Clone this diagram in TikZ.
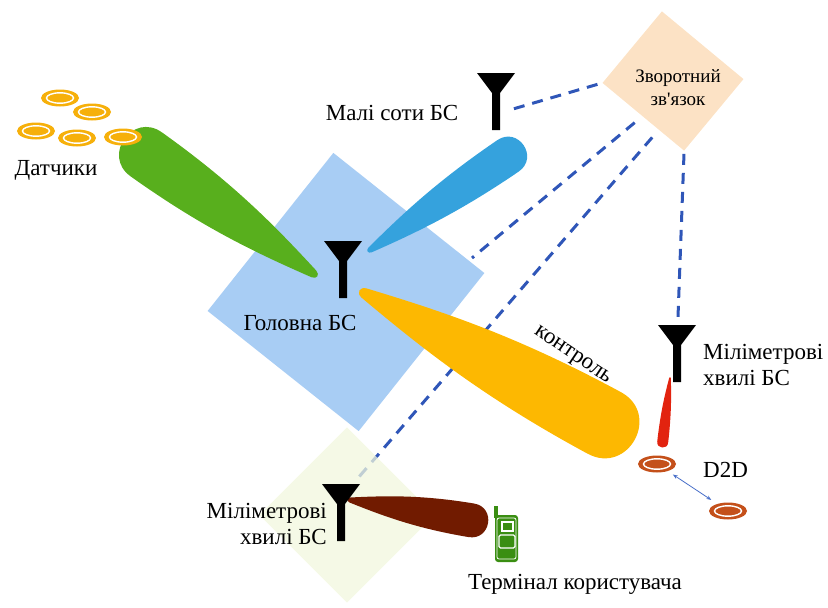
\documentclass[tikz,border=0pt]{standalone}
\usepackage{fontspec}
\setmainfont{Liberation Serif}
\usetikzlibrary{arrows.meta, calc}

\definecolor{mcblue}{HTML}{A8CDF4}
\definecolor{mmgreen}{HTML}{F1F7DD}
\definecolor{fbpeach}{HTML}{FCE2C5}
\definecolor{fbdash}{HTML}{2F56B8}
\definecolor{bmgreen}{HTML}{58AF1D}
\definecolor{bmblue}{HTML}{35A2DD}
\definecolor{bmyellow}{HTML}{FDB801}
\definecolor{bmred}{HTML}{E2230F}
\definecolor{bmbrown}{HTML}{711B00}
\definecolor{snorange}{HTML}{F6B00B}
\definecolor{ddorange}{HTML}{C4501A}
\definecolor{uegreen}{HTML}{3A8E12}
\definecolor{d2dblue}{HTML}{4A70C9}

\tikzset{
  antenna/.pic={
    \fill[black] (-19,0) -- (19,0) -- (4,20) -- (4,57) -- (-4,57) -- (-4,20) -- cycle;
  },
  disc/.pic={
    \fill[#1] (0,0) ellipse (19pt and 8.5pt);
    \draw[white, line width=1.4pt] (0,0) ellipse (13.5pt and 5.2pt);
  },
  handset/.pic={
    \fill[uegreen] (-12,-32) rectangle (-8,-20);
    \fill[uegreen, rounded corners=3pt] (-11,-23) rectangle (12,24);
    \draw[white, line width=0.8pt, rounded corners=2pt] (-9,-20) rectangle (10,21);
    \draw[white, line width=1.2pt] (-4,-16) rectangle (7,-7);
    \draw[white, line width=1.2pt, rounded corners=1.5pt] (-7,-3) rectangle (9,10);
  },
}

% beam lobe: colour, tip, direction, length, half width
\newcommand{\lobe}[5]{%
  \fill[#1, shift={#2}, rotate=#3]
    (0,-0.15*#5) .. controls (0.25*#4,-0.6*#5) and (0.5*#4,-#5) .. (#4-#5,-#5)
    .. controls (#4+0.33*#5,-#5) and (#4+0.33*#5,#5) .. (#4-#5,#5)
    .. controls (0.5*#4,#5) and (0.25*#4,0.6*#5) .. (0,0.15*#5)
    .. controls (-0.2*#5,0.1*#5) and (-0.2*#5,-0.1*#5) .. cycle;
}

\begin{document}
\begin{tikzpicture}[x=1pt, y=-1pt,
  every node/.style={font=\fontsize{23}{27}\selectfont, inner sep=0pt},
  area/.style={rectangle, inner sep=0pt, draw=none},
  fbline/.style={dash pattern=on 11pt off 8pt, line width=3pt, color=fbdash},
]

\useasboundingbox (0,0) rectangle (828,608);

% feedback node
\node[area, fill=fbpeach, rotate=-39.7, minimum width=106pt, minimum height=93pt] (fb) at (673,81) {};
\node[font=\fontsize{19}{23}\selectfont, align=center] (fbtxt) at (678,88) {Зворотний\\зв\textquotesingle язок};

% antenna positions (top of the mast)
\coordinate (sbs) at (496,73);
\coordinate (mbs) at (343,241);
\coordinate (mmr) at (677,325);
\coordinate (mmb) at (341,484);

% feedback links
\draw[fbline, shorten <=5pt] (fb.south west) -- ($(sbs)+(17,36)$);
\draw[fbline, shorten <=10pt] ($(fb.south west)!0.49!(fb.south east)$) -- (472,258);
\draw[fbline, shorten <=10pt] ($(fb.south west)!0.69!(fb.south east)$) -- ($(mmb)+(17,-6)$);
\draw[fbline, shorten <=3pt] (fb.south east) -- ($(mmr)+(1,-8)$);

% coverage areas
\node[area, fill=mcblue, rotate=-38.5, minimum width=193pt, minimum height=202pt] (mcell) at (346,292) {};
\node[area, fill=mmgreen, opacity=0.75, rotate=-45, minimum width=124pt, minimum height=124pt] (mmcell) at (347,515) {};

% beams
\lobe{bmgreen}{(314,274)}{144.5}{233}{27}
\lobe{bmblue}{(370,250)}{34.3}{186}{19}
\lobe{bmyellow}{(364,293)}{-28.4}{308}{35}
\lobe{bmred}{(670,378)}{-96.5}{70}{5.5}
\lobe{bmbrown}{(350,500)}{-9.5}{140}{17}

% sensors
\pic at (60,98) {disc=snorange};
\pic at (92,112) {disc=snorange};
\pic at (36,131) {disc=snorange};
\pic at (77,138) {disc=snorange};
\pic at (123,137) {disc=snorange};

% antennas
\pic at (sbs) {antenna};
\pic at (mbs) {antenna};
\pic at (mmr) {antenna};
\pic at (mmb) {antenna};

% D2D pair
\coordinate (ue1) at (657,464);
\coordinate (ue2) at (728,511);
\pic at (ue1) {disc=ddorange};
\pic at (ue2) {disc=ddorange};
\draw[{Stealth[length=5pt]}-{Stealth[length=5pt]}, d2dblue, line width=0.8pt, shorten <=19pt, shorten >=20pt] (ue1) -- (ue2);

% user terminal
\coordinate (ue) at (506,538);
\pic at (ue) {handset};

% labels
\node (sens) at (56,170) {Датчики};
\node (sbslbl) at (392,113) {Малі соти БС};
\node (mbslbl) at (300,323) {Головна БС};
\node[rotate=-34] (ctrl) at (572,356) {контроль};
\node[anchor=west, align=left, font=\fontsize{23}{26}\selectfont] (mmrlbl) at (703,365) {Міліметрові\\хвилі БС};
\node[anchor=west] (d2dlbl) at (703,470) {D2D};
\node[anchor=east, align=right, font=\fontsize{23}{26}\selectfont] (mmblbl) at (327,524) {Міліметрові\\хвилі БС};
\node (uelbl) at (575,584) {Термінал користувача};

\end{tikzpicture}
\end{document}
